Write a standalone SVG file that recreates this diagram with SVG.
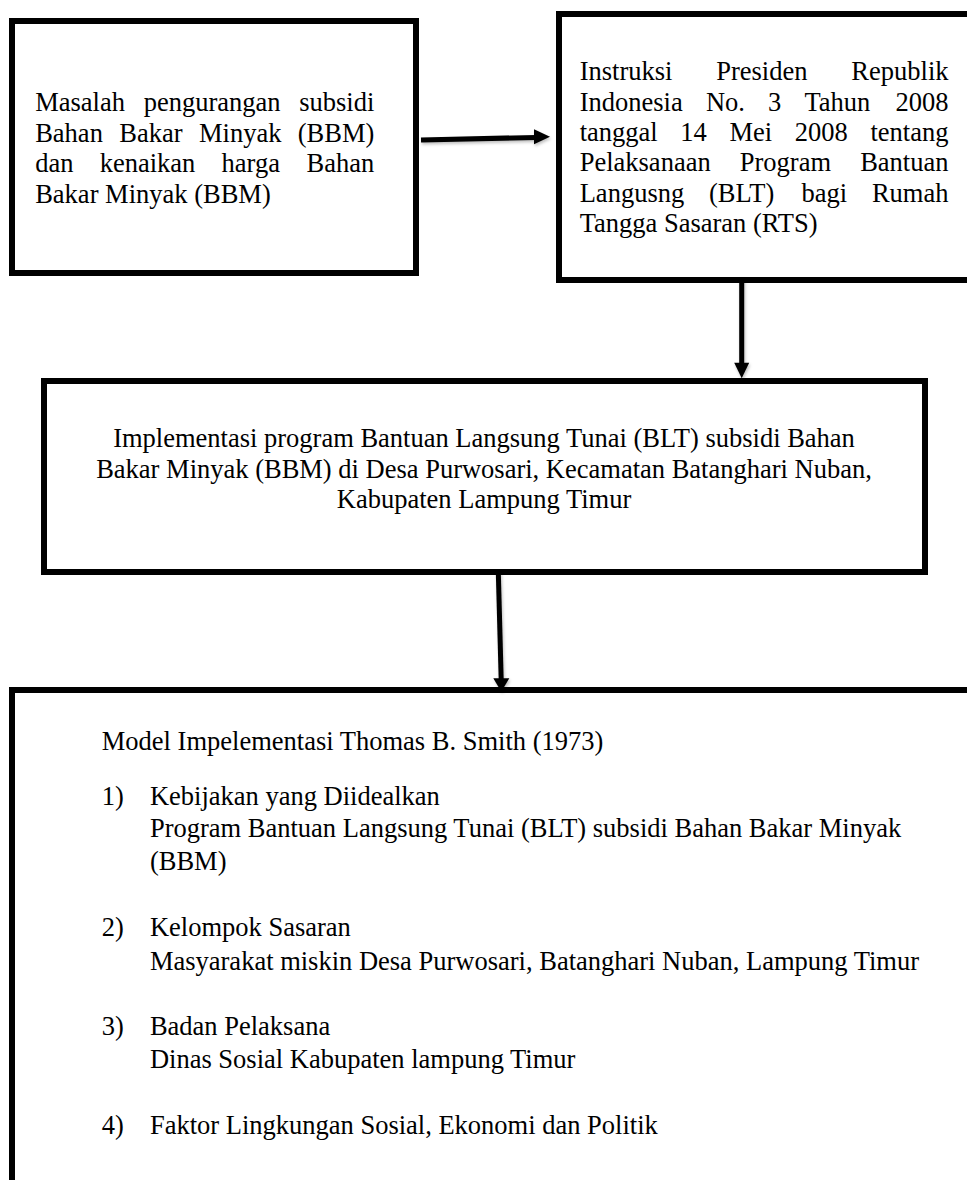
<svg xmlns="http://www.w3.org/2000/svg" width="967" height="1180" viewBox="0 0 967 1180">
<style>
.box{fill:#fff;stroke:#000;stroke-width:6}
.t{font-family:"Liberation Serif","Times New Roman",serif;font-size:26.5px;fill:#000}
.e{text-anchor:end}
.m{text-anchor:middle}
.shaft{stroke:#000;stroke-width:5;fill:none}
.head{fill:#000}
</style>
<defs>
<filter id="sh" x="-20%" y="-20%" width="140%" height="140%">
<feDropShadow dx="1" dy="2" stdDeviation="1.5" flood-color="#000" flood-opacity="0.25"/>
</filter>
</defs>
<rect width="967" height="1180" fill="#fff"/>

<g id="node-masalah">
<rect class="box" x="12" y="21" width="404" height="252"/>
<g class="t">
<text x="35.2" y="111">Masalah</text>
<text x="143.7" y="111">pengurangan</text>
<text class="e" x="374.3" y="111">subsidi</text>
<text x="35.2" y="141.5">Bahan</text>
<text x="119.3" y="141.5">Bakar</text>
<text x="199" y="141.5">Minyak</text>
<text class="e" x="374.3" y="141.5">(BBM)</text>
<text x="35.2" y="172">dan</text>
<text x="99.7" y="172">kenaikan</text>
<text x="221.6" y="172">harga</text>
<text class="e" x="374.3" y="172">Bahan</text>
<text x="35.2" y="202.5">Bakar Minyak (BBM)</text>
</g>
</g>

<g id="node-inpres">
<rect class="box" x="559" y="14" width="500" height="266"/>
<g class="t">
<text x="579.7" y="80">Instruksi</text>
<text x="716.2" y="80">Presiden</text>
<text class="e" x="948.5" y="80">Republik</text>
<text x="579.7" y="110.5">Indonesia</text>
<text x="705.9" y="110.5">No.</text>
<text x="768.1" y="110.5">3</text>
<text x="804.5" y="110.5">Tahun</text>
<text class="e" x="948.5" y="110.5">2008</text>
<text x="579.7" y="141">tanggal</text>
<text x="680.3" y="141">14</text>
<text x="729.5" y="141">Mei</text>
<text x="794.8" y="141">2008</text>
<text class="e" x="948.5" y="141">tentang</text>
<text x="579.7" y="171">Pelaksanaan</text>
<text x="739.8" y="171">Program</text>
<text class="e" x="948.5" y="171">Bantuan</text>
<text x="579.7" y="201.5">Langusng</text>
<text x="709" y="201.5">(BLT)</text>
<text x="801.5" y="201.5">bagi</text>
<text class="e" x="948.5" y="201.5">Rumah</text>
<text x="579.7" y="232">Tangga Sasaran (RTS)</text>
</g>
</g>

<g id="node-implementasi">
<rect class="box" x="44" y="381" width="881" height="191"/>
<g class="t">
<text class="m" x="484" y="447">Implementasi program Bantuan Langsung Tunai (BLT) subsidi Bahan</text>
<text class="m" x="484" y="478">Bakar Minyak (BBM) di Desa Purwosari, Kecamatan Batanghari Nuban,</text>
<text class="m" x="484" y="508">Kabupaten Lampung Timur</text>
</g>
</g>

<g id="node-model">
<rect class="box" x="12" y="690" width="1000" height="600"/>
<g class="t">
<text x="101.8" y="749.5">Model Impelementasi Thomas B. Smith (1973)</text>
<text x="101.8" y="804.5">1)</text>
<text x="149.9" y="804.5">Kebijakan yang Diidealkan</text>
<text x="149.9" y="837.3">Program Bantuan Langsung Tunai (BLT) subsidi Bahan Bakar Minyak</text>
<text x="149.9" y="869.5">(BBM)</text>
<text x="101.8" y="936">2)</text>
<text x="149.9" y="936">Kelompok Sasaran</text>
<text x="149.9" y="970">Masyarakat miskin Desa Purwosari, Batanghari Nuban, Lampung Timur</text>
<text x="101.8" y="1035">3)</text>
<text x="149.9" y="1035">Badan Pelaksana</text>
<text x="149.9" y="1068">Dinas Sosial Kabupaten lampung Timur</text>
<text x="101.8" y="1133.5">4)</text>
<text x="149.9" y="1133.5">Faktor Lingkungan Sosial, Ekonomi dan Politik</text>
</g>
</g>

<g id="connectors" filter="url(#sh)">
<line class="shaft" x1="421" y1="140" x2="536" y2="137.4"/>
<polygon class="head" points="534,129.3 550,136.8 534,144.3"/>
<line class="shaft" x1="741.7" y1="277" x2="741.7" y2="364"/>
<polygon class="head" points="734.2,362.7 749.2,362.7 741.7,378.3"/>
<line class="shaft" x1="498.3" y1="572" x2="501.2" y2="680"/>
<polygon class="head" points="493.3,678.3 509.3,678.3 501.3,691.7"/>
</g>
</svg>
